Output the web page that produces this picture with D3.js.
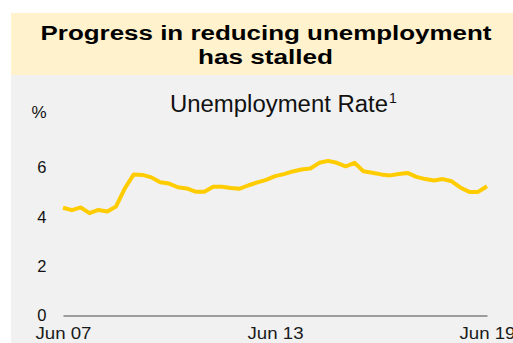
<!DOCTYPE html>
<html>
<head>
<meta charset="utf-8">
<script src="https://cdn.jsdelivr.net/npm/d3@7"></script>
<style>
  html, body { margin: 0; padding: 0; background: #ffffff; }
  svg { display: block; font-family: "Liberation Sans", Arial, sans-serif; }
</style>
</head>
<body>
<svg id="chart" width="513" height="343"></svg>
<script>
// Quarterly observations, Jun 2007 – Jun 2019
const quarters = [
  "2007-06","2007-09","2007-12","2008-03","2008-06","2008-09","2008-12",
  "2009-03","2009-06","2009-09","2009-12","2010-03","2010-06","2010-09","2010-12",
  "2011-03","2011-06","2011-09","2011-12","2012-03","2012-06","2012-09","2012-12",
  "2013-03","2013-06","2013-09","2013-12","2014-03","2014-06","2014-09","2014-12",
  "2015-03","2015-06","2015-09","2015-12","2016-03","2016-06","2016-09","2016-12",
  "2017-03","2017-06","2017-09","2017-12","2018-03","2018-06","2018-09","2018-12",
  "2019-03","2019-06"
];
const unemploymentRate = [
  4.37, 4.27, 4.38, 4.15, 4.28, 4.22, 4.42,
  5.15, 5.72, 5.70, 5.60, 5.40, 5.35, 5.20, 5.15,
  5.02, 5.02, 5.22, 5.22, 5.17, 5.14, 5.28, 5.40,
  5.50, 5.65, 5.73, 5.84, 5.92, 5.96, 6.19, 6.27,
  6.19, 6.05, 6.19, 5.85, 5.79, 5.72, 5.68, 5.74,
  5.78, 5.62, 5.53, 5.47, 5.53, 5.44, 5.18, 5.01,
  5.01, 5.24
];
const yTicks = [0, 2, 4, 6];
const xTickDates = ["2007-06", "2013-06", "2019-06"];
const xTickLabels = ["Jun 07", "Jun 13", "Jun 19"];
const titleLines = ["Progress in reducing unemployment", "has stalled"];
const subtitle = "Unemployment Rate";
const footnoteMark = "1";
const unitLabel = "%";

const parseMonth = d3.timeParse("%Y-%m");
const series = quarters.map((q, i) => ({ date: parseMonth(q), value: unemploymentRate[i] }));

const svg = d3.select("#chart");

// Header band and chart panel
svg.append("rect").attr("x", 11).attr("y", 13).attr("width", 502).attr("height", 62)
  .attr("fill", "#FFF2CC");
svg.append("rect").attr("x", 11).attr("y", 75).attr("width", 502).attr("height", 268)
  .attr("fill", "#F1F1F1");

// Headline, slightly widened
const titleG = svg.append("g").attr("font-weight", "bold").attr("fill", "#000")
  .attr("font-size", 20);
titleG.append("text").attr("x", 266).attr("y", 39.5).attr("text-anchor", "middle")
  .attr("textLength", 451).attr("lengthAdjust", "spacingAndGlyphs").text(titleLines[0]);
titleG.append("text").attr("x", 265.5).attr("y", 64).attr("text-anchor", "middle")
  .attr("textLength", 135).attr("lengthAdjust", "spacingAndGlyphs").text(titleLines[1]);

// Chart subtitle with footnote marker
const sub = svg.append("text").attr("x", 170).attr("y", 112).attr("font-size", 23)
  .attr("fill", "#111");
sub.append("tspan").attr("textLength", 218).attr("lengthAdjust", "spacingAndGlyphs").text(subtitle);
sub.append("tspan").attr("font-size", 14).attr("dy", -9).attr("dx", 1).text(footnoteMark);

// Scales
const x = d3.scaleTime()
  .domain([parseMonth("2007-06"), parseMonth("2019-06")])
  .range([63, 487]);
const y = d3.scaleLinear().domain([0, 6]).range([315.5, 167.5]);

// Unit label
svg.append("text").attr("x", 39).attr("y", 118).attr("text-anchor", "middle")
  .attr("font-size", 17).attr("fill", "#111").text(unitLabel);

// Y axis labels (no axis line)
const yAxis = d3.axisLeft(y).tickValues(yTicks).tickSize(0).tickPadding(0)
  .tickFormat(d3.format("d"));
const yg = svg.append("g").attr("transform", "translate(46.5,0)").call(yAxis);
yg.select(".domain").remove();
yg.selectAll("text").attr("font-size", 16.5).attr("fill", "#111")
  .attr("font-family", "Liberation Sans, Arial, sans-serif").attr("dy", "0.33em");

// X axis: baseline plus date labels
const xAxis = d3.axisBottom(x).tickValues(xTickDates.map(parseMonth))
  .tickSize(0).tickPadding(0)
  .tickFormat((d, i) => xTickLabels[i]);
const xg = svg.append("g").attr("transform", `translate(0,${y(0)})`).call(xAxis);
xg.select(".domain").attr("stroke", "#808080").attr("stroke-width", 1.6);
xg.selectAll("text").attr("font-size", 16).attr("fill", "#1a1a1a")
  .attr("font-family", "Liberation Sans, Arial, sans-serif")
  .attr("dy", 23.5)
  .attr("textLength", 56).attr("lengthAdjust", "spacingAndGlyphs");

// Unemployment rate line
const line = d3.line().x(d => x(d.date)).y(d => y(d.value)).curve(d3.curveLinear);
svg.append("path").datum(series)
  .attr("fill", "none").attr("stroke", "#FFCC00").attr("stroke-width", 4)
  .attr("stroke-linejoin", "round").attr("stroke-linecap", "butt")
  .attr("d", line);
</script>
</body>
</html>
